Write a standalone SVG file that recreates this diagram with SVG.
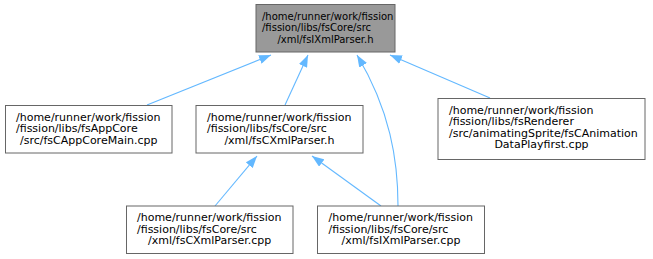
<svg xmlns="http://www.w3.org/2000/svg" width="653" height="259" viewBox="0 0 653 259">
<style>
.node rect{fill:#ffffff;stroke:#666666;stroke-width:1}
#n0 rect{fill:#999999;stroke:#666666}
text{font-family:"DejaVu Sans","Liberation Sans",sans-serif;font-size:11px;fill:#000000}
#n0 text{font-size:10px}
.m{text-anchor:middle}
.edges path{fill:none;stroke:#63b8ff;stroke-width:1.1}
</style>
<defs>
<marker id="ah" viewBox="0 0 12 9" refX="12" refY="4.5" markerWidth="12" markerHeight="9" markerUnits="userSpaceOnUse" orient="auto">
<path d="M0,0 L12,4.5 L0,9 z" fill="#63b8ff" stroke="none"/>
</marker>
</defs>
<g class="edges">
<path d="M147,105 L271,55" marker-end="url(#ah)"/>
<path d="M285,105 L308,55" marker-end="url(#ah)"/>
<path d="M398,206 C398,160 390,110 357,55" marker-end="url(#ah)"/>
<path d="M490,98 L390,55" marker-end="url(#ah)"/>
<path d="M215,206 L257,156" marker-end="url(#ah)"/>
<path d="M381,206 L312,156" marker-end="url(#ah)"/>
</g>
<g id="n0" class="node">
<rect x="256" y="4.5" width="139" height="47.5"/>
<text x="262" y="19.5">/home/runner/work/fission</text>
<text x="262" y="31">/fission/libs/fsCore/src</text>
<text class="m" x="325.5" y="42.5">/xml/fsIXmlParser.h</text>
</g>
<g id="n1" class="node">
<rect x="5.5" y="105.5" width="166.5" height="47.5"/>
<text x="16" y="120.5">/home/runner/work/fission</text>
<text x="16" y="132">/fission/libs/fsAppCore</text>
<text class="m" x="88.7" y="143.5">/src/fsCAppCoreMain.cpp</text>
</g>
<g id="n2" class="node">
<rect x="196" y="105.5" width="167" height="47.5"/>
<text x="207" y="120.5">/home/runner/work/fission</text>
<text x="207" y="132">/fission/libs/fsCore/src</text>
<text class="m" x="279.5" y="143.5">/xml/fsCXmlParser.h</text>
</g>
<g id="n3" class="node">
<rect x="438" y="98.5" width="207" height="61"/>
<text x="449" y="113.5">/home/runner/work/fission</text>
<text x="449" y="125">/fission/libs/fsRenderer</text>
<text x="449" y="136.5">/src/animatingSprite/fsCAnimation</text>
<text class="m" x="541.5" y="148">DataPlayfirst.cpp</text>
</g>
<g id="n4" class="node">
<rect x="126.5" y="206" width="166.5" height="47.5"/>
<text x="137" y="221">/home/runner/work/fission</text>
<text x="137" y="232.5">/fission/libs/fsCore/src</text>
<text class="m" x="209.7" y="244">/xml/fsCXmlParser.cpp</text>
</g>
<g id="n5" class="node">
<rect x="317.5" y="206" width="167" height="47.5"/>
<text x="328.5" y="221">/home/runner/work/fission</text>
<text x="328.5" y="232.5">/fission/libs/fsCore/src</text>
<text class="m" x="401" y="244">/xml/fsIXmlParser.cpp</text>
</g>
</svg>
